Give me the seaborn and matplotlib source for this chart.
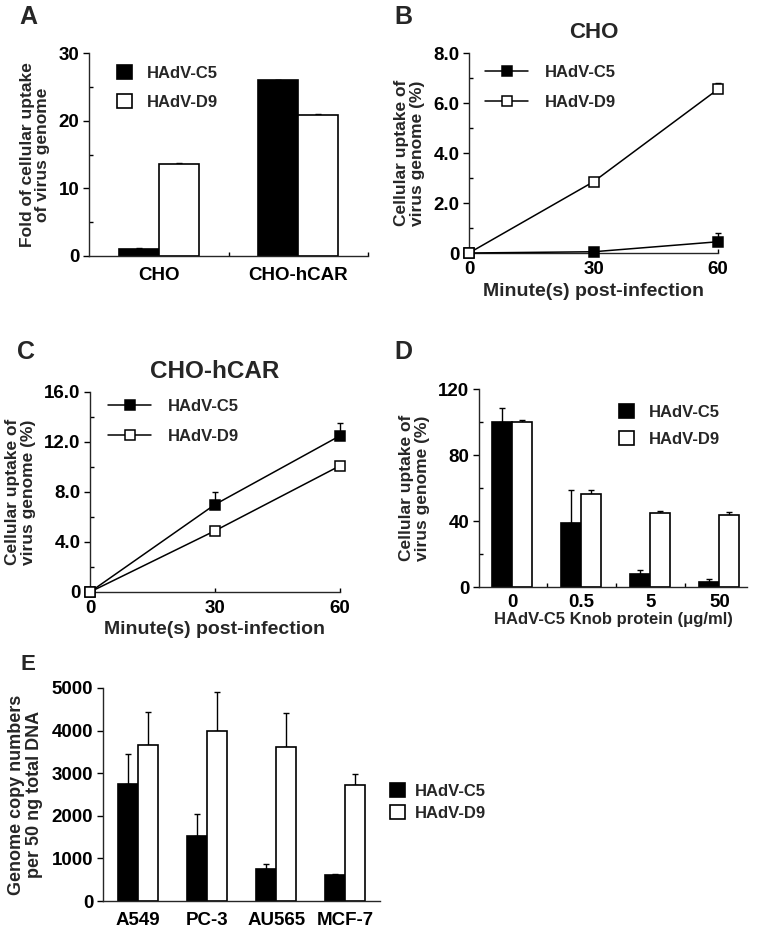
import matplotlib
matplotlib.use("Agg")
import matplotlib.pyplot as plt
import numpy as np
import pandas as pd
import seaborn as sns
from matplotlib.patches import Patch
from matplotlib.ticker import FixedLocator

viruses = ["HAdV-C5", "HAdV-D9"]

# panel A
a_cells = ["CHO", "CHO-hCAR"]
a_c5 = [1.0, 26.0]
a_c5_err = [0.15, 0.0]
a_d9 = [13.6, 20.9]
a_d9_err = [0.2, 0.1]

# panel B / C time course
minutes = [0, 30, 60]
b_c5 = [0.0, 0.05, 0.45]
b_c5_err = [0.0, 0.0, 0.35]
b_d9 = [0.0, 2.85, 6.55]
b_d9_err = [0.0, 0.05, 0.25]
c_c5 = [0.0, 7.0, 12.5]
c_c5_err = [0.0, 1.0, 1.0]
c_d9 = [0.0, 4.9, 10.1]
c_d9_err = [0.0, 0.1, 0.2]

# panel D
d_knob = ["0", "0.5", "5", "50"]
d_c5 = [100.0, 39.0, 8.0, 3.2]
d_c5_err = [8.5, 20.0, 2.5, 1.5]
d_d9 = [100.0, 56.5, 45.0, 43.5]
d_d9_err = [1.5, 2.5, 1.2, 2.0]

# panel E
e_cells = ["A549", "PC-3", "AU565", "MCF-7"]
e_c5 = [2750, 1520, 740, 610]
e_c5_err = [700, 530, 130, 30]
e_d9 = [3670, 3980, 3610, 2730]
e_d9_err = [770, 920, 800, 250]

sns.set_theme(style="ticks")
plt.rcParams["font.family"] = ["Liberation Sans", "DejaVu Sans"]
plt.rcParams["font.weight"] = "bold"
plt.rcParams["axes.labelweight"] = "bold"
plt.rcParams["axes.linewidth"] = 1.0
plt.rcParams["xtick.color"] = "black"
plt.rcParams["ytick.color"] = "black"

palette = {"HAdV-C5": "black", "HAdV-D9": "white"}

fig = plt.figure(figsize=(7.59, 9.33), dpi=100)


def fig_axes(l, t, r, b):
    W, H = 759, 933
    return fig.add_axes([l / W, 1 - b / H, (r - l) / W, (b - t) / H])


def style_axes(ax, ymax, yticks, ylabels, yminor):
    sns.despine(ax=ax)
    ax.set_ylim(0, ymax)
    ax.set_yticks(yticks)
    ax.set_yticklabels(ylabels, fontsize=13.5, fontweight="bold")
    if yminor:
        ax.yaxis.set_minor_locator(FixedLocator(yminor))
    ax.tick_params(axis="y", which="major", direction="out", length=4, width=1, pad=3)
    ax.tick_params(axis="y", which="minor", direction="in", length=3, width=1)


def bar_panel(ax, cats, c5, c5e, d9, d9e, width):
    df = pd.DataFrame({
        "cat": cats * 2,
        "virus": [viruses[0]] * len(cats) + [viruses[1]] * len(cats),
        "value": list(c5) + list(d9),
    })
    sns.barplot(data=df, x="cat", y="value", hue="virus", palette=palette,
                edgecolor="black", linewidth=1.2, width=width, gap=0,
                errorbar=None, legend=False, ax=ax, zorder=2)
    for cont, errs in zip(ax.containers, [c5e, d9e]):
        xs = [p.get_x() + p.get_width() / 2 for p in cont]
        hs = [p.get_height() for p in cont]
        ax.errorbar(xs, hs, yerr=[np.zeros(len(errs)), errs], fmt="none",
                    ecolor="black", elinewidth=1.0, capsize=2.5, capthick=1.0, zorder=1)
    n = len(cats)
    ax.set_xlim(-0.5, n - 0.5)
    ax.set_xlabel("")
    ax.set_ylabel("")
    ax.set_xticks(range(n))
    ax.set_xticklabels(cats, fontsize=13.5, fontweight="bold")
    ax.xaxis.set_minor_locator(FixedLocator(np.arange(n) + 0.5))
    ax.tick_params(axis="x", which="major", length=0, pad=8)
    ax.tick_params(axis="x", which="minor", direction="in", length=3, width=1)


def bar_legend(ax, anchor, spacing, textpad=0.9):
    handles = [Patch(facecolor="black", edgecolor="black", linewidth=1.2),
               Patch(facecolor="white", edgecolor="black", linewidth=1.2)]
    ax.legend(handles, viruses, loc="upper left", bbox_to_anchor=anchor,
              bbox_transform=fig.transFigure, frameon=False,
              handlelength=0.9, handleheight=0.9, handletextpad=textpad,
              labelspacing=spacing, borderpad=0, borderaxespad=0,
              prop={"weight": "bold", "size": 12})


def line_panel(ax, c5, c5e, d9, d9e):
    for vals, errs, fc, name in [(c5, c5e, "black", viruses[0]), (d9, d9e, "white", viruses[1])]:
        ax.errorbar(minutes, vals, yerr=[np.zeros(len(errs)), errs], fmt="none",
                    ecolor="black", elinewidth=1.0, capsize=2.5, capthick=1.0, zorder=2, clip_on=False)
        sns.lineplot(x=minutes, y=vals, ax=ax, color="black", linewidth=1.1,
                     marker="s", markersize=7.5, markerfacecolor=fc,
                     markeredgecolor="black", markeredgewidth=1.1, label=name,
                     zorder=3, clip_on=False)
    ax.set_xlim(0, 60)
    ax.set_xticks(minutes)
    ax.set_xticklabels([str(m) for m in minutes], fontsize=13.5, fontweight="bold")
    ax.tick_params(axis="x", which="major", direction="in", length=3, width=1, pad=6)
    ax.set_xlabel("Minute(s) post-infection", fontsize=14, fontweight="bold", labelpad=3)


def line_legend(ax, anchor):
    ax.legend(loc="upper left", bbox_to_anchor=anchor,
              bbox_transform=fig.transFigure, frameon=False, handlelength=2.6,
              handletextpad=1.0, labelspacing=0.9, borderpad=0, borderaxespad=0,
              prop={"weight": "bold", "size": 12})


# ---- A ----
axA = fig_axes(89, 53, 368, 256)
bar_panel(axA, a_cells, a_c5, a_c5_err, a_d9, a_d9_err, 0.57)
style_axes(axA, 30, [0, 10, 20, 30], ["0", "10", "20", "30"], [5, 15, 25])
axA.set_ylabel("Fold of cellular uptake\nof virus genome", fontsize=12.5, linespacing=1.05, labelpad=6)
bar_legend(axA, (117 / 759, 1 - 65 / 933), 0.8)

# ---- B ----
axB = fig_axes(469, 53, 718, 253)
line_panel(axB, b_c5, b_c5_err, b_d9, b_d9_err)
style_axes(axB, 8, [0, 2, 4, 6, 8], ["0", "2.0", "4.0", "6.0", "8.0"], [1, 3, 5, 7])
axB.set_ylabel("Cellular uptake of\nvirus genome (%)", fontsize=12.5, linespacing=1.05, labelpad=6)
axB.set_title("CHO", fontsize=16, fontweight="bold", pad=11)
line_legend(axB, (485 / 759, 1 - 65 / 933))

# ---- C ----
axC = fig_axes(90, 392, 340, 592)
line_panel(axC, c_c5, c_c5_err, c_d9, c_d9_err)
style_axes(axC, 16, [0, 4, 8, 12, 16], ["0", "4.0", "8.0", "12.0", "16.0"], [2, 6, 10, 14])
axC.set_ylabel("Cellular uptake of\nvirus genome (%)", fontsize=12.5, linespacing=1.05, labelpad=6)
axC.set_title("CHO-hCAR", fontsize=17.5, fontweight="bold", pad=10)
line_legend(axC, (108 / 759, 1 - 399 / 933))

# ---- D ----
axD = fig_axes(479, 389, 747, 587)
bar_panel(axD, d_knob, d_c5, d_c5_err, d_d9, d_d9_err, 0.58)
axD.set_xlim(-0.48, 3.4)
style_axes(axD, 120, [0, 40, 80, 120], ["0", "40", "80", "120"], [20, 60, 100])
axD.set_ylabel("Cellular uptake of\nvirus genome (%)", fontsize=12.5, linespacing=1.05, labelpad=6)
axD.set_xlabel("HAdV-C5 Knob protein (\u03bcg/ml)", fontsize=12, fontweight="bold", labelpad=1)
axD.tick_params(axis="x", which="major", pad=5)
bar_legend(axD, (619 / 759, 1 - 404 / 933), 0.7)

# ---- E ----
axE = fig_axes(103, 688, 380, 901)
bar_panel(axE, e_cells, e_c5, e_c5_err, e_d9, e_d9_err, 0.58)
style_axes(axE, 5000, [0, 1000, 2000, 3000, 4000, 5000],
           ["0", "1000", "2000", "3000", "4000", "5000"], None)
axE.tick_params(axis="x", which="minor", length=0)
axE.set_ylabel("Genome copy numbers\nper 50 ng total DNA", fontsize=13, linespacing=1.1, labelpad=6)
bar_legend(axE, (390 / 759, 1 - 783 / 933), 0.4, textpad=0.6)

# panel letters
for letter, x, y, size in [("A", 19, 5, 18), ("B", 394, 5, 18), ("C", 17, 340, 18),
                           ("D", 394, 340, 18), ("E", 21, 654, 16)]:
    fig.text(x / 759, 1 - y / 933, letter, fontsize=size, fontweight="bold", va="top", ha="left")

fig.savefig("out.png", dpi=100, facecolor="white")
